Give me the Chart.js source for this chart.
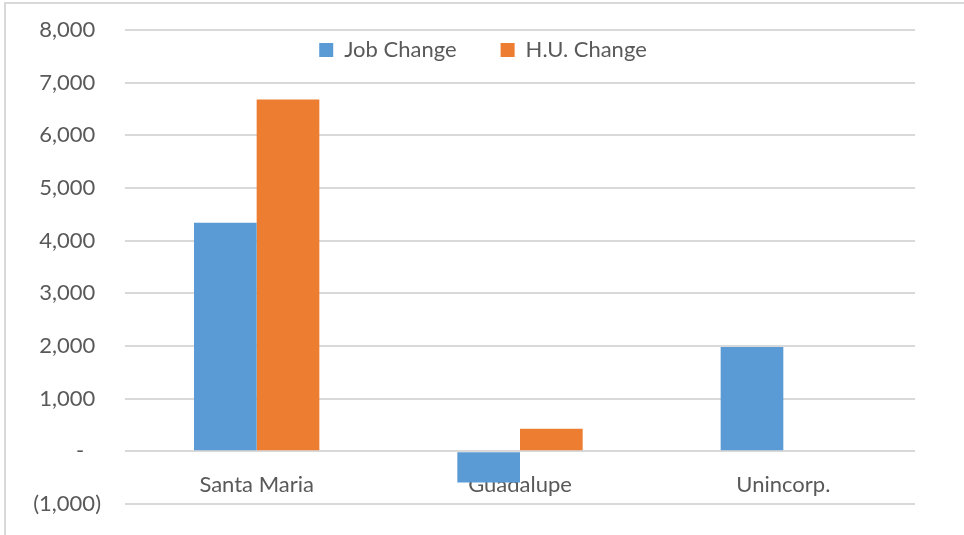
<!DOCTYPE html>
<html lang="en">
<head>
    <meta charset="UTF-8">
    <title>Job Change vs H.U. Change</title>
    <script src="https://cdn.jsdelivr.net/npm/chart.js"></script>
    <style>
        body { margin: 0; background: #fff; }
        #wrap { position: relative; width: 964px; height: 535px; }
        #frame { position: absolute; left: 4px; top: 2px; right: -10px; bottom: -10px;
                 border-left: 2px solid #d9d9d9; border-top: 2px solid #d9d9d9; pointer-events: none; }
    </style>
</head>
<body>
    <div id="wrap">
        <canvas id="grafico" width="964" height="535"></canvas>
        <div id="frame"></div>
    </div>

    <script>
        // dados
        const categorias = ['Santa Maria', 'Guadalupe', 'Unincorp.'];
        const jobChange = [4340, -590, 1980];
        const huChange = [6680, 430, 0];
        const yMin = -1000;
        const yMax = 8000;
        const yStep = 1000;

        const textoCor = '#595959';
        const fonte = { family: 'Lato', size: 22 };

        // formato contábil do Excel: zero vira "-", negativo entre parênteses
        function formatarValor(v) {
            if (v === 0) return '-   ';
            if (v < 0) return '(' + Math.abs(v).toLocaleString('en-US') + ')';
            return v.toLocaleString('en-US') + ' ';
        }

        // legenda fica dentro da área do gráfico, como no Excel
        const moverLegenda = {
            id: 'moverLegenda',
            afterLayout(chart) {
                const lg = chart.legend;
                const pad = lg.options.labels.padding;
                const largura = lg.right - lg.left;
                const centroX = 483;
                const centroY = 50;
                lg.left = centroX - largura / 2;
                lg.right = centroX + largura / 2;
                lg.top = centroY - pad - fonte.size / 2;
                lg.height = 90;
                lg.bottom = lg.top + lg.height;
            }
        };

        const ctx = document.getElementById('grafico').getContext('2d');
        new Chart(ctx, {
            type: 'bar',
            data: {
                labels: categorias,
                datasets: [{
                    label: 'Job Change',
                    data: jobChange,
                    backgroundColor: '#5b9bd5',
                    borderWidth: 0
                }, {
                    label: 'H.U. Change',
                    data: huChange,
                    backgroundColor: '#ed7d31',
                    borderWidth: 0
                }]
            },
            options: {
                responsive: false,
                animation: false,
                layout: { padding: { left: 0, right: 49, top: 29, bottom: 31 } },
                datasets: { bar: { barPercentage: 1, categoryPercentage: 0.476 } },
                plugins: {
                    title: { display: false },
                    tooltip: { enabled: false },
                    legend: {
                        position: 'top',
                        maxHeight: 1,
                        labels: {
                            boxWidth: 14,
                            boxHeight: 14,
                            padding: 44,
                            color: textoCor,
                            font: fonte
                        }
                    }
                },
                scales: {
                    x: {
                        position: { y: 0 },
                        grid: { display: false },
                        border: { display: false },
                        ticks: { color: textoCor, font: fonte, padding: 12 }
                    },
                    y: {
                        min: yMin,
                        max: yMax,
                        afterFit(scale) { scale.width = 125; },
                        grid: {
                            color: '#d9d9d9',
                            lineWidth: 2,
                            drawTicks: true,
                            tickLength: 24,
                            tickColor: 'rgba(0,0,0,0)'
                        },
                        border: { display: false },
                        ticks: {
                            stepSize: yStep,
                            color: textoCor,
                            font: fonte,
                            padding: 0,
                            callback: formatarValor
                        }
                    }
                }
            },
            plugins: [moverLegenda]
        });
    </script>
</body>
</html>
